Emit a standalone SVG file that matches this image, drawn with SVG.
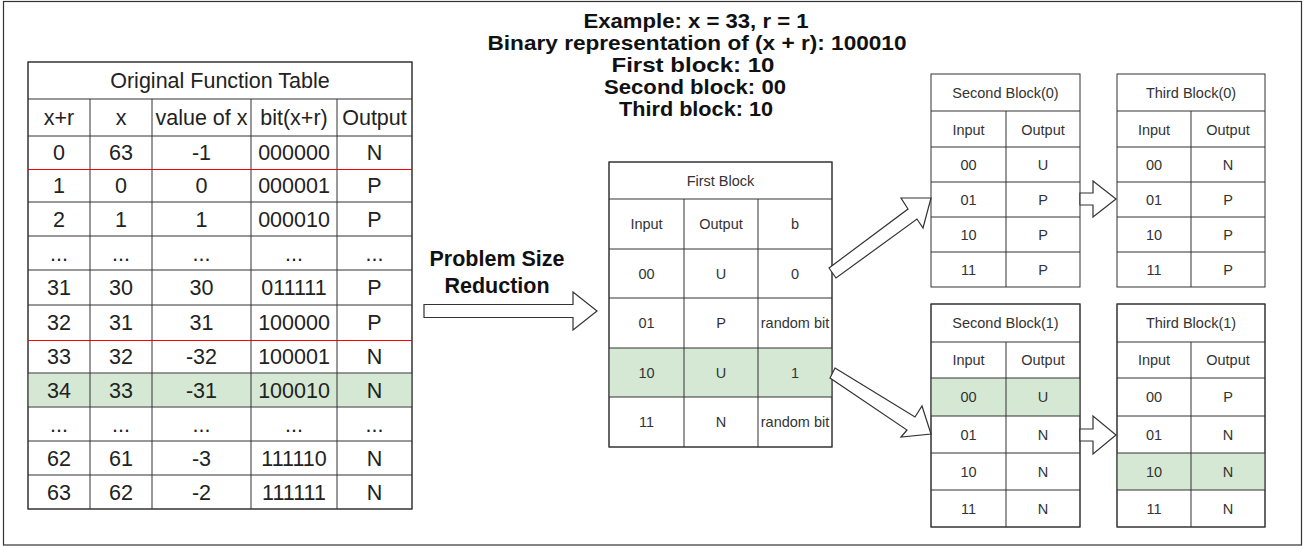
<svg xmlns="http://www.w3.org/2000/svg" width="1312" height="546" viewBox="0 0 1312 546">
<style>
.frame{fill:#fff;stroke:#333;stroke-width:1.2}
.cell{fill:#fff;stroke:#333;stroke-width:1}
.ln{stroke:#333;stroke-width:1;fill:none}
.red{stroke:#ff0000;stroke-width:1;fill:none}
.hl{fill:#d5e8d4;stroke:none}
.arr{fill:#fff;stroke:#333;stroke-width:1.2;stroke-linejoin:miter}
text{font-family:"Liberation Sans",Arial,Helvetica,sans-serif;text-anchor:middle;dominant-baseline:central;fill:#222}
.big{font-size:21.5px}
.sm{font-size:14.5px;fill:#333}
.bold{font-size:20.5px;font-weight:bold;fill:#111;dominant-baseline:auto}
.bold2{font-size:21.5px;font-weight:bold;fill:#111}
</style>
<rect class="frame" x="3.5" y="1.5" width="1298" height="543.5"/>

<g id="example-text">
<text class="bold" x="696" y="28" textLength="225" lengthAdjust="spacingAndGlyphs">Example: x = 33, r = 1</text>
<text class="bold" x="697" y="50" textLength="419" lengthAdjust="spacingAndGlyphs">Binary representation of (x + r): 100010</text>
<text class="bold" x="693" y="72" textLength="163" lengthAdjust="spacingAndGlyphs">First block: 10</text>
<text class="bold" x="695" y="94" textLength="182" lengthAdjust="spacingAndGlyphs">Second block: 00</text>
<text class="bold" x="696" y="116" textLength="154" lengthAdjust="spacingAndGlyphs">Third block: 10</text>
</g>

<g id="original-table">
<rect class="cell" x="28" y="62" width="384" height="447"/>
<rect class="hl" x="28.5" y="373.5" width="383" height="33"/>
<path class="ln" d="M28 99H412M28 136H412M28 202H412M28 236H412M28 270H412M28 305H412M28 373H412M28 407H412M28 441H412M28 475H412"/>
<path class="red" d="M28 169.5H412M28 340.5H412"/>
<path class="ln" d="M90 99V509M152 99V509M251 99V509M337 99V509"/>
<rect class="ln" x="28" y="62" width="384" height="447"/>
<text class="big" x="220" y="81">Original Function Table</text>
<g class="big">
<text class="big" x="59" y="118">x+r</text><text class="big" x="121" y="118">x</text><text class="big" x="201.5" y="118">value of x</text><text class="big" x="294" y="118">bit(x+r)</text><text class="big" x="374.5" y="118">Output</text>
<text class="big" x="59" y="153">0</text><text class="big" x="121" y="153">63</text><text class="big" x="201.5" y="153">-1</text><text class="big" x="294" y="153">000000</text><text class="big" x="374.5" y="153">N</text>
<text class="big" x="59" y="186">1</text><text class="big" x="121" y="186">0</text><text class="big" x="201.5" y="186">0</text><text class="big" x="294" y="186">000001</text><text class="big" x="374.5" y="186">P</text>
<text class="big" x="59" y="219.5">2</text><text class="big" x="121" y="219.5">1</text><text class="big" x="201.5" y="219.5">1</text><text class="big" x="294" y="219.5">000010</text><text class="big" x="374.5" y="219.5">P</text>
<text class="big" x="59" y="253.5">...</text><text class="big" x="121" y="253.5">...</text><text class="big" x="201.5" y="253.5">...</text><text class="big" x="294" y="253.5">...</text><text class="big" x="374.5" y="253.5">...</text>
<text class="big" x="59" y="288">31</text><text class="big" x="121" y="288">30</text><text class="big" x="201.5" y="288">30</text><text class="big" x="294" y="288">011111</text><text class="big" x="374.5" y="288">P</text>
<text class="big" x="59" y="323">32</text><text class="big" x="121" y="323">31</text><text class="big" x="201.5" y="323">31</text><text class="big" x="294" y="323">100000</text><text class="big" x="374.5" y="323">P</text>
<text class="big" x="59" y="357">33</text><text class="big" x="121" y="357">32</text><text class="big" x="201.5" y="357">-32</text><text class="big" x="294" y="357">100001</text><text class="big" x="374.5" y="357">N</text>
<text class="big" x="59" y="390.5">34</text><text class="big" x="121" y="390.5">33</text><text class="big" x="201.5" y="390.5">-31</text><text class="big" x="294" y="390.5">100010</text><text class="big" x="374.5" y="390.5">N</text>
<text class="big" x="59" y="424.5">...</text><text class="big" x="121" y="424.5">...</text><text class="big" x="201.5" y="424.5">...</text><text class="big" x="294" y="424.5">...</text><text class="big" x="374.5" y="424.5">...</text>
<text class="big" x="59" y="458.5">62</text><text class="big" x="121" y="458.5">61</text><text class="big" x="201.5" y="458.5">-3</text><text class="big" x="294" y="458.5">111110</text><text class="big" x="374.5" y="458.5">N</text>
<text class="big" x="59" y="492.5">63</text><text class="big" x="121" y="492.5">62</text><text class="big" x="201.5" y="492.5">-2</text><text class="big" x="294" y="492.5">111111</text><text class="big" x="374.5" y="492.5">N</text>
</g>
</g>

<g id="reduction-label">
<text class="bold2" x="497" y="259">Problem Size</text>
<text class="bold2" x="497" y="286">Reduction</text>
</g>

<g id="first-block">
<rect class="cell" x="609" y="162" width="223" height="285"/>
<rect class="hl" x="609.5" y="348" width="222" height="49"/>
<path class="ln" d="M609 199H832M609 249H832M609 298H832M609 348H832M609 397H832M684 199V447M758 199V447"/>
<rect class="ln" x="609" y="162" width="223" height="285"/>
<text class="sm" x="720.5" y="181">First Block</text>
<text class="sm" x="646.5" y="224">Input</text><text class="sm" x="721" y="224">Output</text><text class="sm" x="795" y="224">b</text>
<text class="sm" x="646.5" y="273.5">00</text><text class="sm" x="721" y="273.5">U</text><text class="sm" x="795" y="273.5">0</text>
<text class="sm" x="646.5" y="323">01</text><text class="sm" x="721" y="323">P</text><text class="sm" x="795" y="323">random bit</text>
<text class="sm" x="646.5" y="372.5">10</text><text class="sm" x="721" y="372.5">U</text><text class="sm" x="795" y="372.5">1</text>
<text class="sm" x="646.5" y="422">11</text><text class="sm" x="721" y="422">N</text><text class="sm" x="795" y="422">random bit</text>
</g>

<g id="second-block-0">
<rect class="cell" x="931" y="74" width="149" height="213"/>
<path class="ln" d="M931 111H1080M931 147H1080M931 182H1080M931 217H1080M931 252H1080M1006 111V287"/>
<text class="sm" x="1005.5" y="93">Second Block(0)</text>
<text class="sm" x="968.5" y="129.5">Input</text><text class="sm" x="1043" y="129.5">Output</text>
<text class="sm" x="968.5" y="165">00</text><text class="sm" x="1043" y="165">U</text>
<text class="sm" x="968.5" y="200">01</text><text class="sm" x="1043" y="200">P</text>
<text class="sm" x="968.5" y="235">10</text><text class="sm" x="1043" y="235">P</text>
<text class="sm" x="968.5" y="270">11</text><text class="sm" x="1043" y="270">P</text>
</g>

<g id="third-block-0">
<rect class="cell" x="1117" y="74" width="148" height="213"/>
<path class="ln" d="M1117 111H1265M1117 147H1265M1117 182H1265M1117 217H1265M1117 252H1265M1191 111V287"/>
<text class="sm" x="1191" y="93">Third Block(0)</text>
<text class="sm" x="1154" y="129.5">Input</text><text class="sm" x="1228" y="129.5">Output</text>
<text class="sm" x="1154" y="165">00</text><text class="sm" x="1228" y="165">N</text>
<text class="sm" x="1154" y="200">01</text><text class="sm" x="1228" y="200">P</text>
<text class="sm" x="1154" y="235">10</text><text class="sm" x="1228" y="235">P</text>
<text class="sm" x="1154" y="270">11</text><text class="sm" x="1228" y="270">P</text>
</g>

<g id="second-block-1">
<rect class="cell" x="931" y="304" width="149" height="223"/>
<rect class="hl" x="931.5" y="378" width="148" height="38"/>
<path class="ln" d="M931 342H1080M931 378H1080M931 416H1080M931 453H1080M931 490H1080M1006 342V527"/>
<rect class="ln" x="931" y="304" width="149" height="223"/>
<text class="sm" x="1005.5" y="323">Second Block(1)</text>
<text class="sm" x="968.5" y="360">Input</text><text class="sm" x="1043" y="360">Output</text>
<text class="sm" x="968.5" y="397">00</text><text class="sm" x="1043" y="397">U</text>
<text class="sm" x="968.5" y="434.5">01</text><text class="sm" x="1043" y="434.5">N</text>
<text class="sm" x="968.5" y="471.5">10</text><text class="sm" x="1043" y="471.5">N</text>
<text class="sm" x="968.5" y="508.5">11</text><text class="sm" x="1043" y="508.5">N</text>
</g>

<g id="third-block-1">
<rect class="cell" x="1117" y="304" width="148" height="223"/>
<rect class="hl" x="1117.5" y="453" width="147" height="37"/>
<path class="ln" d="M1117 342H1265M1117 378H1265M1117 416H1265M1117 453H1265M1117 490H1265M1191 342V527"/>
<rect class="ln" x="1117" y="304" width="148" height="223"/>
<text class="sm" x="1191" y="323">Third Block(1)</text>
<text class="sm" x="1154" y="360">Input</text><text class="sm" x="1228" y="360">Output</text>
<text class="sm" x="1154" y="397">00</text><text class="sm" x="1228" y="397">P</text>
<text class="sm" x="1154" y="434.5">01</text><text class="sm" x="1228" y="434.5">N</text>
<text class="sm" x="1154" y="471.5">10</text><text class="sm" x="1228" y="471.5">N</text>
<text class="sm" x="1154" y="508.5">11</text><text class="sm" x="1228" y="508.5">N</text>
</g>

<g id="connectors">
<polygon class="arr" points="424,304.5 573,304.5 573,292 597,311 573,330 573,317.5 424,317.5"/>
<polygon class="arr" points="829,268 908,209 901,198 931,198 923,228 917,219 836,278"/>
<polygon class="arr" points="835,368 915,417 922,406 931,434 901,437 907,430 830,378"/>
<polygon class="arr" points="1080,193 1093,193 1093,181 1116,199 1093,217 1093,205 1080,205"/>
<polygon class="arr" points="1080,429 1093,429 1093,416 1116,435 1093,454 1093,441 1080,441"/>
</g>
</svg>
